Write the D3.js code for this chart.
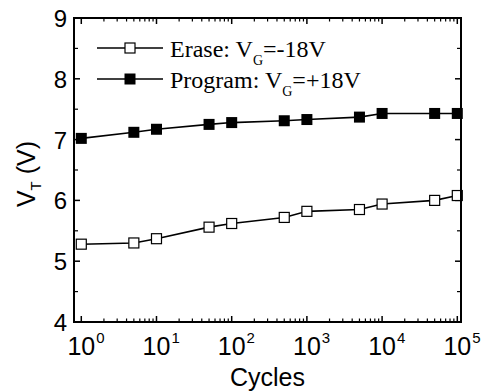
<!DOCTYPE html>
<html>
<head>
<meta charset="utf-8">
<script src="https://cdn.jsdelivr.net/npm/d3@7"></script>
<style>
  body { margin: 0; background: #fff; }
  svg { display: block; }
</style>
</head>
<body>
<div class="chart"></div>
<script>
// ---------------------------------- DATA
var cycles = [1, 5, 10, 50, 100, 500, 1000, 5000, 10000, 50000, 100000];
var eraseVt = [5.28, 5.30, 5.37, 5.56, 5.62, 5.72, 5.82, 5.85, 5.94, 6.00, 6.08];
var programVt = [7.02, 7.12, 7.17, 7.25, 7.28, 7.31, 7.33, 7.37, 7.43, 7.43, 7.43];
var yTicks = [4, 5, 6, 7, 8, 9];
var xTicks = [1, 10, 100, 1000, 10000, 100000];
var legendLabels = ["Erase: V", "Program: V"];
var legendSubs = ["G", "G"];
var legendTails = ["=-18V", "=+18V"];

var width = 481, height = 391;
var margin = {left: 74, right: 20, top: 18, bottom: 69};

var svg = d3.select(".chart").append("svg")
  .attr("width", width)
  .attr("height", height);

// ---------------------------------- SCALES
var x = d3.scaleLog()
  .domain([0.8, 1.12e5])
  .range([margin.left, width - margin.right]);

var y = d3.scaleLinear()
  .domain([4, 9])
  .range([height - margin.bottom, margin.top]);

var x0 = margin.left, x1 = width - margin.right;
var y0 = height - margin.bottom, y1 = margin.top;

// minor ticks on log axis
var xMinor = [];
for (var e = 0; e < 5; e++) {
  for (var m = 2; m <= 9; m++) xMinor.push(m * Math.pow(10, e));
}
var yMinor = [4.5, 5.5, 6.5, 7.5, 8.5];

// ---------------------------------- AXES (ticks inside)
var ax = svg.append("g").attr("stroke", "#000");

// bottom + top ticks
[y0, y1].forEach(function(yy, k) {
  var dir = k === 0 ? -1 : 1;
  ax.selectAll(null).data(xTicks).enter().append("line")
    .attr("x1", function(d) { return x(d); })
    .attr("x2", function(d) { return x(d); })
    .attr("y1", yy).attr("y2", yy + dir * 6)
    .attr("stroke-width", 1.5);
  ax.selectAll(null).data(xMinor).enter().append("line")
    .attr("x1", function(d) { return x(d); })
    .attr("x2", function(d) { return x(d); })
    .attr("y1", yy).attr("y2", yy + dir * 3.5)
    .attr("stroke-width", 1.2);
});

// left + right ticks
[x0, x1].forEach(function(xx, k) {
  var dir = k === 0 ? 1 : -1;
  ax.selectAll(null).data(yTicks).enter().append("line")
    .attr("y1", function(d) { return y(d); })
    .attr("y2", function(d) { return y(d); })
    .attr("x1", xx).attr("x2", xx + dir * 6)
    .attr("stroke-width", 1.5);
  ax.selectAll(null).data(yMinor).enter().append("line")
    .attr("y1", function(d) { return y(d); })
    .attr("y2", function(d) { return y(d); })
    .attr("x1", xx).attr("x2", xx + dir * 4)
    .attr("stroke-width", 1.2);
});

// y tick labels
svg.selectAll("text.ytick").data(yTicks).enter().append("text")
  .attr("class", "ytick")
  .attr("x", x0 - 7)
  .attr("y", function(d) { return y(d) + 9; })
  .attr("text-anchor", "end")
  .attr("font-family", "Liberation Sans, Arial, sans-serif")
  .attr("font-size", 24)
  .text(function(d) { return d; });

// x tick labels: 10^n
xTicks.forEach(function(d) {
  var t = svg.append("text")
    .attr("x", x(d))
    .attr("y", y0 + 33)
    .attr("text-anchor", "middle")
    .attr("font-family", "Liberation Sans, Arial, sans-serif")
    .attr("font-size", 25)
    .text("10");
  var w = t.node().getComputedTextLength();
  svg.append("text")
    .attr("x", x(d) + w / 2 + 1)
    .attr("y", y0 + 21)
    .attr("font-family", "Liberation Sans, Arial, sans-serif")
    .attr("font-size", 15)
    .text(Math.round(Math.log10(d)));
});

// axis titles
svg.append("text")
  .attr("x", (x0 + x1) / 2)
  .attr("y", height - 5)
  .attr("text-anchor", "middle")
  .attr("font-family", "Liberation Sans, Arial, sans-serif")
  .attr("font-size", 25)
  .text("Cycles");

var yl = svg.append("text")
  .attr("transform", "translate(35," + ((y0 + y1) / 2 + 4) + ") rotate(-90)")
  .attr("text-anchor", "middle")
  .attr("font-family", "Liberation Sans, Arial, sans-serif")
  .attr("font-size", 25);
yl.append("tspan").text("V");
yl.append("tspan").attr("font-size", 15).attr("dy", 6).text("T");
yl.append("tspan").attr("dy", -6).text(" (V)");

// ---------------------------------- SERIES
var line = d3.line()
  .x(function(d) { return x(d[0]); })
  .y(function(d) { return y(d[1]); });

var series = [
  {vals: eraseVt, fill: "#fff", size: 10},
  {vals: programVt, fill: "#000", size: 11}
];

series.forEach(function(s) {
  var pts = cycles.map(function(c, i) { return [c, s.vals[i]]; });
  svg.append("path")
    .attr("d", line(pts))
    .attr("fill", "none")
    .attr("stroke", "#000")
    .attr("stroke-width", 1.6);
  svg.selectAll(null).data(pts).enter().append("rect")
    .attr("x", function(d) { return x(d[0]) - s.size / 2; })
    .attr("y", function(d) { return y(d[1]) - s.size / 2; })
    .attr("width", s.size)
    .attr("height", s.size)
    .attr("fill", s.fill)
    .attr("stroke", "#000")
    .attr("stroke-width", s.fill === "#fff" ? 1.2 : 0);
});

// frame
svg.append("rect")
  .attr("x", x0).attr("y", y1)
  .attr("width", x1 - x0).attr("height", y0 - y1)
  .attr("fill", "none")
  .attr("stroke", "#000")
  .attr("stroke-width", 2);

// ---------------------------------- LEGEND
var legY = [48, 79];
series.forEach(function(s, i) {
  svg.append("line")
    .attr("x1", 97).attr("x2", 163)
    .attr("y1", legY[i]).attr("y2", legY[i])
    .attr("stroke", "#000").attr("stroke-width", 1.6);
  svg.append("rect")
    .attr("x", 130 - s.size / 2).attr("y", legY[i] - s.size / 2)
    .attr("width", s.size).attr("height", s.size)
    .attr("fill", s.fill).attr("stroke", "#000")
    .attr("stroke-width", s.fill === "#fff" ? 1.2 : 0);
  var t = svg.append("text")
    .attr("x", 170)
    .attr("y", legY[i] + 9)
    .attr("font-family", "Liberation Serif, Times New Roman, serif")
    .attr("font-size", 24);
  t.append("tspan").text(legendLabels[i]);
  t.append("tspan").attr("font-size", 14).attr("dy", 8).text(legendSubs[i]);
  t.append("tspan").attr("dy", -8).text(legendTails[i]);
});
</script>
</body>
</html>
